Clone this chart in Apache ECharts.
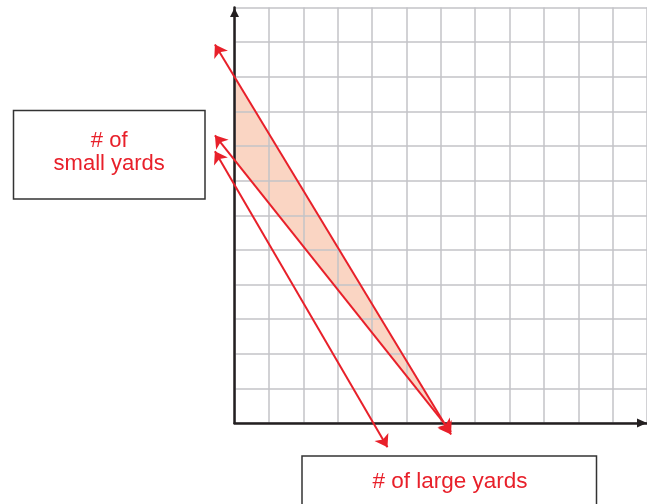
<!DOCTYPE html>
<html>
<head>
<meta charset="utf-8">
<script src="https://cdn.jsdelivr.net/npm/echarts@6/dist/echarts.min.js"></script>
<style>html,body{margin:0;padding:0;background:#fff;}#c{width:647px;height:504px;}</style>
</head>
<body>
<div id="c"></div>
<script>
// Axis extents (grid units)
const xMax = 12;
const yMax = 12;
// Constraint lines (arrow tip to arrow tip, in chart units)
const lineA = [[-0.57, 10.93], [6.3, -0.33]];   // through (0,10) and (6.1,0)
const lineB = [[-0.57, 8.31], [6.3, -0.25]];    // through (0,7.6) and (6.1,0)
const lineC = [[-0.57, 7.85], [4.45, -0.7]];    // through (0,6.93) and (4.09,0)
// Shaded feasible region
const region = [[0, 10], [0, 7.6], [6.1, 0]];
// Labels
const yLabel = ['# of', 'small yards'];
const xLabel = '# of large yards';

const RED = '#e8202a';
const chart = echarts.init(document.getElementById('c'), null, {renderer: 'canvas'});
const axisCommon = {
  type: 'value', min: 0, interval: 1,
  axisLabel: {show: false}, axisTick: {show: false},
  splitLine: {show: true, lineStyle: {color: '#c3c3c7', width: 1.5}},
  z: 2
};
chart.setOption({
  animation: false,
  backgroundColor: '#fff',
  grid: {left: 234.5, top: 7.5, width: 415.6, height: 415.6},
  xAxis: Object.assign({}, axisCommon, {max: xMax,
    axisLine: {show: true, onZero: false, symbol: ['none', 'triangle'], symbolSize: [9, 10], symbolOffset: [0, -5],
      lineStyle: {color: '#231f20', width: 2.5}}}),
  yAxis: Object.assign({}, axisCommon, {max: yMax,
    axisLine: {show: true, onZero: false, symbol: ['none', 'triangle'], symbolSize: [9, 9], symbolOffset: [0, -5],
      lineStyle: {color: '#231f20', width: 2.5}}}),
  series: [
    {
      type: 'custom', z: 1,
      data: [0],
      renderItem: function (params, api) {
        const pts = region.map(p => api.coord(p));
        return {type: 'polygon', shape: {points: pts}, style: {fill: '#fad5c3', stroke: null}};
      }
    },
    {
      type: 'lines', coordinateSystem: 'cartesian2d', clip: false, z: 3,
      symbol: ['arrow', 'arrow'], symbolSize: 12,
      lineStyle: {color: RED, width: 2, opacity: 1, curveness: 0},
      itemStyle: {color: RED},
      data: [{coords: lineA}, {coords: lineB}, {coords: lineC}]
    }
  ],
  graphic: [
    {type: 'rect', shape: {x: 13.5, y: 110.5, width: 191.5, height: 88.5},
      style: {fill: '#fff', stroke: '#333', lineWidth: 1.5}},
    {type: 'text', x: 109.2, y: 141, style: {text: yLabel[0], fill: RED, font: '22px "Liberation Sans", Arial, sans-serif', align: 'center', verticalAlign: 'middle'}},
    {type: 'text', x: 109.2, y: 164, style: {text: yLabel[1], fill: RED, font: '22px "Liberation Sans", Arial, sans-serif', align: 'center', verticalAlign: 'middle'}},
    {type: 'rect', shape: {x: 302, y: 456, width: 294.5, height: 60},
      style: {fill: '#fff', stroke: '#333', lineWidth: 1.5}},
    {type: 'text', x: 450, y: 482, style: {text: xLabel, fill: RED, font: '22.5px "Liberation Sans", Arial, sans-serif', align: 'center', verticalAlign: 'middle'}}
  ]
});
</script>
</body>
</html>
